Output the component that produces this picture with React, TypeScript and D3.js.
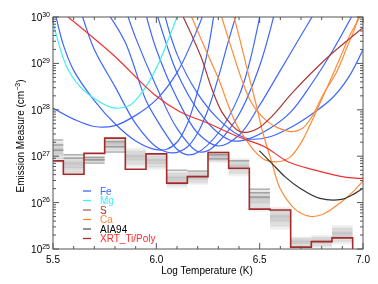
import { useEffect, useRef } from 'react';
import * as d3 from 'd3';

type Pt = [number, number];

// EM loci curves: [log T, log EM]
const feLoci: Pt[][] = [
  [[5.5, 28.04], [5.6, 27.8], [5.7, 27.64], [5.8, 27.66], [5.9, 27.88], [6.0, 28.22], [6.1, 28.8], [6.2, 29.75], [6.23, 30.1]],
  [[5.51, 30.1], [5.55, 29.4], [5.6, 28.85], [5.7, 28.2], [5.8, 27.7], [5.9, 27.33], [6.0, 27.14], [6.05, 27.15], [6.1, 27.3], [6.15, 27.7], [6.2, 28.4], [6.25, 29.3], [6.28, 30.1]],
  [[5.64, 30.05], [5.7, 29.3], [5.8, 28.5], [5.9, 27.7], [6.0, 27.2], [6.08, 27.07], [6.15, 27.2], [6.2, 27.5], [6.25, 28.0], [6.3, 28.7], [6.35, 29.5], [6.39, 30.1]],
  [[5.77, 30.05], [5.85, 29.45], [5.95, 28.2], [6.0, 27.8], [6.05, 27.45], [6.1, 27.15], [6.15, 27.03], [6.2, 27.08], [6.3, 27.5], [6.4, 28.3], [6.45, 29.0], [6.5, 30.0]],
  [[5.86, 30.05], [5.9, 29.55], [6.0, 28.5], [6.1, 27.6], [6.2, 27.1], [6.25, 27.12], [6.3, 27.3], [6.4, 27.9], [6.5, 28.95], [6.57, 30.05]],
  [[5.95, 30.05], [6.0, 29.3], [6.1, 28.25], [6.2, 27.5], [6.3, 27.22], [6.4, 27.45], [6.5, 28.1], [6.6, 28.85], [6.7, 29.6], [6.76, 30.05]],
  [[6.0, 30.1], [6.05, 29.4], [6.1, 28.8], [6.2, 28.0], [6.3, 27.5], [6.37, 27.33], [6.45, 27.38], [6.55, 27.6], [6.65, 27.95], [6.75, 28.55], [6.85, 29.25], [6.95, 30.05]],
  [[6.04, 30.05], [6.1, 29.2], [6.2, 28.35], [6.3, 27.8], [6.4, 27.45], [6.45, 27.37], [6.55, 27.42], [6.65, 27.62], [6.75, 27.9], [6.85, 28.25], [6.93, 28.7], [7.0, 29.3]],
];

const mgLocus: Pt[] = [
  [5.5, 29.89], [5.566, 28.93], [5.631, 28.5], [5.711, 28.21], [5.792, 28.04], [5.873, 28.1],
  [5.921, 28.32], [5.969, 28.64], [6.018, 29.07], [6.066, 29.61], [6.1, 30.0],
];

const sLocus: Pt[] = [
  [6.13, 30.0], [6.171, 29.61], [6.219, 29.11], [6.268, 28.46], [6.316, 27.96], [6.365, 27.67],
  [6.405, 27.53], [6.445, 27.52], [6.493, 27.6], [6.566, 27.89], [6.663, 28.39], [6.824, 29.11],
  [6.937, 29.54], [7.0, 29.77],
];

const caLoci: Pt[][] = [
  [[6.171, 30.0], [6.235, 29.33], [6.3, 28.68], [6.348, 28.1], [6.389, 27.67], [6.429, 27.39], [6.477, 27.1],
   [6.526, 26.92], [6.589, 26.88], [6.647, 26.98], [6.703, 27.31], [6.759, 27.82], [6.824, 28.46],
   [6.888, 29.11], [6.937, 29.61], [6.985, 30.0]],
  [[6.316, 30.0], [6.366, 29.29], [6.414, 28.64], [6.453, 28.21], [6.492, 27.95], [6.54, 27.74], [6.589, 27.61],
   [6.655, 27.53], [6.709, 27.61], [6.758, 27.89], [6.806, 28.32], [6.873, 28.82], [6.921, 29.33],
   [6.961, 29.76], [6.977, 30.0]],
  [[6.376, 30.0], [6.405, 29.5], [6.443, 28.81], [6.482, 28.13], [6.516, 27.5], [6.558, 26.88], [6.598, 26.31],
   [6.655, 25.93], [6.695, 25.78], [6.752, 25.7], [6.816, 25.77], [6.897, 26.02], [6.951, 26.23], [7.0, 26.47]],
];

const aiaLocus: Pt[] = [
  [6.498, 27.12], [6.558, 26.85], [6.622, 26.56], [6.695, 26.31], [6.792, 26.09], [6.897, 26.07],
  [6.945, 26.16], [7.0, 26.31],
];

const xrtLocus: Pt[] = [
  [5.573, 30.0], [5.792, 29.18], [5.993, 28.32], [6.114, 27.96], [6.251, 27.71], [6.396, 27.42],
  [6.526, 27.2], [6.637, 26.88], [6.768, 26.7], [6.913, 26.55], [7.0, 26.52],
];

// DEM solution per bin
const binCenters = [5.5, 5.6, 5.7, 5.8, 5.9, 6.0, 6.1, 6.2, 6.3, 6.4, 6.5, 6.6, 6.7, 6.8, 6.9];
const demValues = [26.9, 26.61, 27.06, 27.39, 26.72, 27.05, 26.42, 26.56, 27.08, 26.74, 25.86, 25.84, 25.04, 25.16, 25.24];
const bandLow = [26.85, 26.56, 26.85, 27.07, 26.75, 26.7, 26.31, 26.38, 26.85, 26.56, 25.8, 25.41, 25.02, 25.02, 25.09];
const bandHigh = [27.36, 27.05, 27.0, 27.41, 27.18, 27.07, 26.7, 26.7, 27.12, 26.96, 26.31, 25.91, 25.27, 25.3, 25.52];
const darkLines: Pt[] = [
  [5.5, 27.35], [5.5, 27.24], [5.5, 27.13], [5.6, 27.03], [5.6, 26.96], [5.7, 26.98], [5.7, 26.92],
  [5.7, 26.85], [5.8, 27.31], [5.8, 27.2], [5.8, 27.09], [6.1, 26.7], [6.2, 26.68], [6.3, 27.03],
  [6.3, 26.94], [6.4, 26.9], [6.5, 26.29], [6.5, 26.21], [6.5, 26.12],
];

const legendItems = [
  { label: 'Fe', line: '#3d66ff', text: '#3d66ff' },
  { label: 'Mg', line: '#3ff0f0', text: '#3ff0f0' },
  { label: 'S', line: '#b06060', text: '#a83030' },
  { label: 'Ca', line: '#ff8a3a', text: '#ff8a3a' },
  { label: 'AIA94', line: '#555555', text: '#000000' },
  { label: 'XRT_Ti/Poly', line: '#a52a2a', text: '#ff2a2a' },
];

const xMajor = [5.5, 6.0, 6.5, 7.0];
const yDecades = [25, 26, 27, 28, 29, 30];

const FONT = '"Liberation Sans", Arial, Helvetica, sans-serif';

export default function App() {
  const svgRef = useRef<SVGSVGElement>(null);

  useEffect(() => {
    if (!svgRef.current) return;
    d3.select(svgRef.current).selectAll('*').remove();

    const width = 378;
    const height = 284;
    const left = 53, right = 363, top = 17, bottom = 249;

    const svg = d3.select(svgRef.current).attr('width', width).attr('height', height);

    const x = d3.scaleLinear().domain([5.5, 7.0]).range([left, right]);
    const y = d3.scaleLinear().domain([25, 30]).range([bottom, top]);

    const defs = svg.append('defs');
    defs.append('clipPath').attr('id', 'plot-clip')
      .append('rect').attr('x', left).attr('y', top).attr('width', right - left).attr('height', bottom - top);
    const grad = defs.append('linearGradient').attr('id', 'band')
      .attr('x1', 0).attr('y1', 0).attr('x2', 0).attr('y2', 1);
    grad.append('stop').attr('offset', '0%').attr('stop-color', '#f4f4f4');
    grad.append('stop').attr('offset', '45%').attr('stop-color', '#c9c9c9');
    grad.append('stop').attr('offset', '100%').attr('stop-color', '#f6f6f6');

    const plot = svg.append('g').attr('clip-path', 'url(#plot-clip)');

    // uncertainty bands
    binCenters.forEach((c, i) => {
      const x0 = x(Math.max(5.5, c - 0.05));
      const x1 = x(c + 0.05);
      plot.append('rect')
        .attr('x', x0).attr('width', x1 - x0)
        .attr('y', y(bandHigh[i])).attr('height', y(bandLow[i]) - y(bandHigh[i]))
        .attr('fill', 'url(#band)');
      [0.2, 0.4, 0.6, 0.8].forEach((f) => {
        const v = bandLow[i] + (bandHigh[i] - bandLow[i]) * f;
        plot.append('line')
          .attr('x1', x0).attr('x2', x1).attr('y1', y(v)).attr('y2', y(v))
          .attr('stroke', '#9a9a9a').attr('stroke-opacity', 0.35).attr('stroke-width', 0.6);
      });
    });

    darkLines.forEach(([c, v]) => {
      plot.append('line')
        .attr('x1', x(Math.max(5.5, c - 0.05))).attr('x2', x(c + 0.05))
        .attr('y1', y(v)).attr('y2', y(v))
        .attr('stroke', '#444').attr('stroke-width', 0.7).attr('stroke-opacity', 0.8);
    });

    // DEM histogram
    const stepPts: Pt[] = [[5.5, demValues[0]]];
    binCenters.forEach((c, i) => { if (i > 0) stepPts.push([c - 0.05, demValues[i]]); });
    stepPts.push([6.95, demValues[demValues.length - 1]]);
    stepPts.push([6.95, 25]);
    const step = d3.line<Pt>().x((d) => x(d[0])).y((d) => y(d[1])).curve(d3.curveStepAfter);
    plot.append('path').attr('d', step(stepPts)).attr('fill', 'none')
      .attr('stroke', '#a52a2a').attr('stroke-width', 1.6);

    const line = d3.line<Pt>().x((d) => x(d[0])).y((d) => y(d[1])).curve(d3.curveCatmullRom.alpha(0.5));
    const drawCurve = (pts: Pt[], color: string) =>
      plot.append('path').attr('d', line(pts)).attr('fill', 'none')
        .attr('stroke', color).attr('stroke-width', 1.2);

    feLoci.forEach((c) => drawCurve(c, '#3d66ff'));
    drawCurve(mgLocus, '#3ff0f0');
    caLoci.forEach((c) => drawCurve(c, '#ff8a3a'));
    drawCurve(sLocus, '#a83838');
    drawCurve(aiaLocus, '#333333');
    drawCurve(xrtLocus, '#ee3030');

    // axes frame
    const axes = svg.append('g').attr('stroke', '#555').attr('stroke-width', 1).attr('fill', 'none');
    axes.append('rect').attr('x', left).attr('y', top).attr('width', right - left).attr('height', bottom - top);

    d3.range(5.5, 7.0001, 0.1).forEach((t) => {
      const isMajor = xMajor.some((m) => Math.abs(m - t) < 1e-6);
      const len = isMajor ? 6 : 3;
      axes.append('line').attr('x1', x(t)).attr('x2', x(t)).attr('y1', bottom).attr('y2', bottom - len);
      axes.append('line').attr('x1', x(t)).attr('x2', x(t)).attr('y1', top).attr('y2', top + len);
    });

    yDecades.forEach((d) => {
      axes.append('line').attr('x1', left).attr('x2', left + 6).attr('y1', y(d)).attr('y2', y(d));
      axes.append('line').attr('x1', right).attr('x2', right - 6).attr('y1', y(d)).attr('y2', y(d));
      if (d < 30) {
        d3.range(2, 10).forEach((k) => {
          const v = d + Math.log10(k);
          axes.append('line').attr('x1', left).attr('x2', left + 3).attr('y1', y(v)).attr('y2', y(v));
          axes.append('line').attr('x1', right).attr('x2', right - 3).attr('y1', y(v)).attr('y2', y(v));
        });
      }
    });

    const labels = svg.append('g').attr('font-family', FONT).attr('fill', '#000');

    xMajor.forEach((t) => {
      labels.append('text').attr('x', x(t)).attr('y', 263).attr('text-anchor', 'middle')
        .attr('font-size', 10).text(t.toFixed(1));
    });

    yDecades.forEach((d) => {
      const tx = labels.append('text').attr('x', 50).attr('y', y(d) + 4).attr('text-anchor', 'end').attr('font-size', 10);
      tx.append('tspan').text('10');
      tx.append('tspan').attr('font-size', 7).attr('dy', -4.5).text(String(d));
    });

    labels.append('text').attr('x', 207).attr('y', 274).attr('text-anchor', 'middle')
      .attr('font-size', 10).text('Log Temperature (K)');

    const yl = labels.append('text').attr('transform', 'translate(24,136) rotate(-90)')
      .attr('text-anchor', 'middle').attr('font-size', 10);
    yl.append('tspan').text('Emission Measure (cm');
    yl.append('tspan').attr('font-size', 7).attr('dy', -4).text('−3');
    yl.append('tspan').attr('dy', 4).text(')');

    // legend
    const lg = svg.append('g').attr('font-family', FONT).attr('font-size', 10);
    legendItems.forEach((item, i) => {
      const ly = 191 + i * 9.5;
      lg.append('line').attr('x1', 83).attr('x2', 91).attr('y1', ly).attr('y2', ly)
        .attr('stroke', item.line).attr('stroke-width', 1.3);
      lg.append('text').attr('x', 100).attr('y', ly + 3.5).attr('fill', item.text).text(item.label);
    });
  }, []);

  return (
    <div style={{ position: 'fixed', left: 0, top: 0 }}>
      <svg ref={svgRef} style={{ display: 'block' }} />
    </div>
  );
}
